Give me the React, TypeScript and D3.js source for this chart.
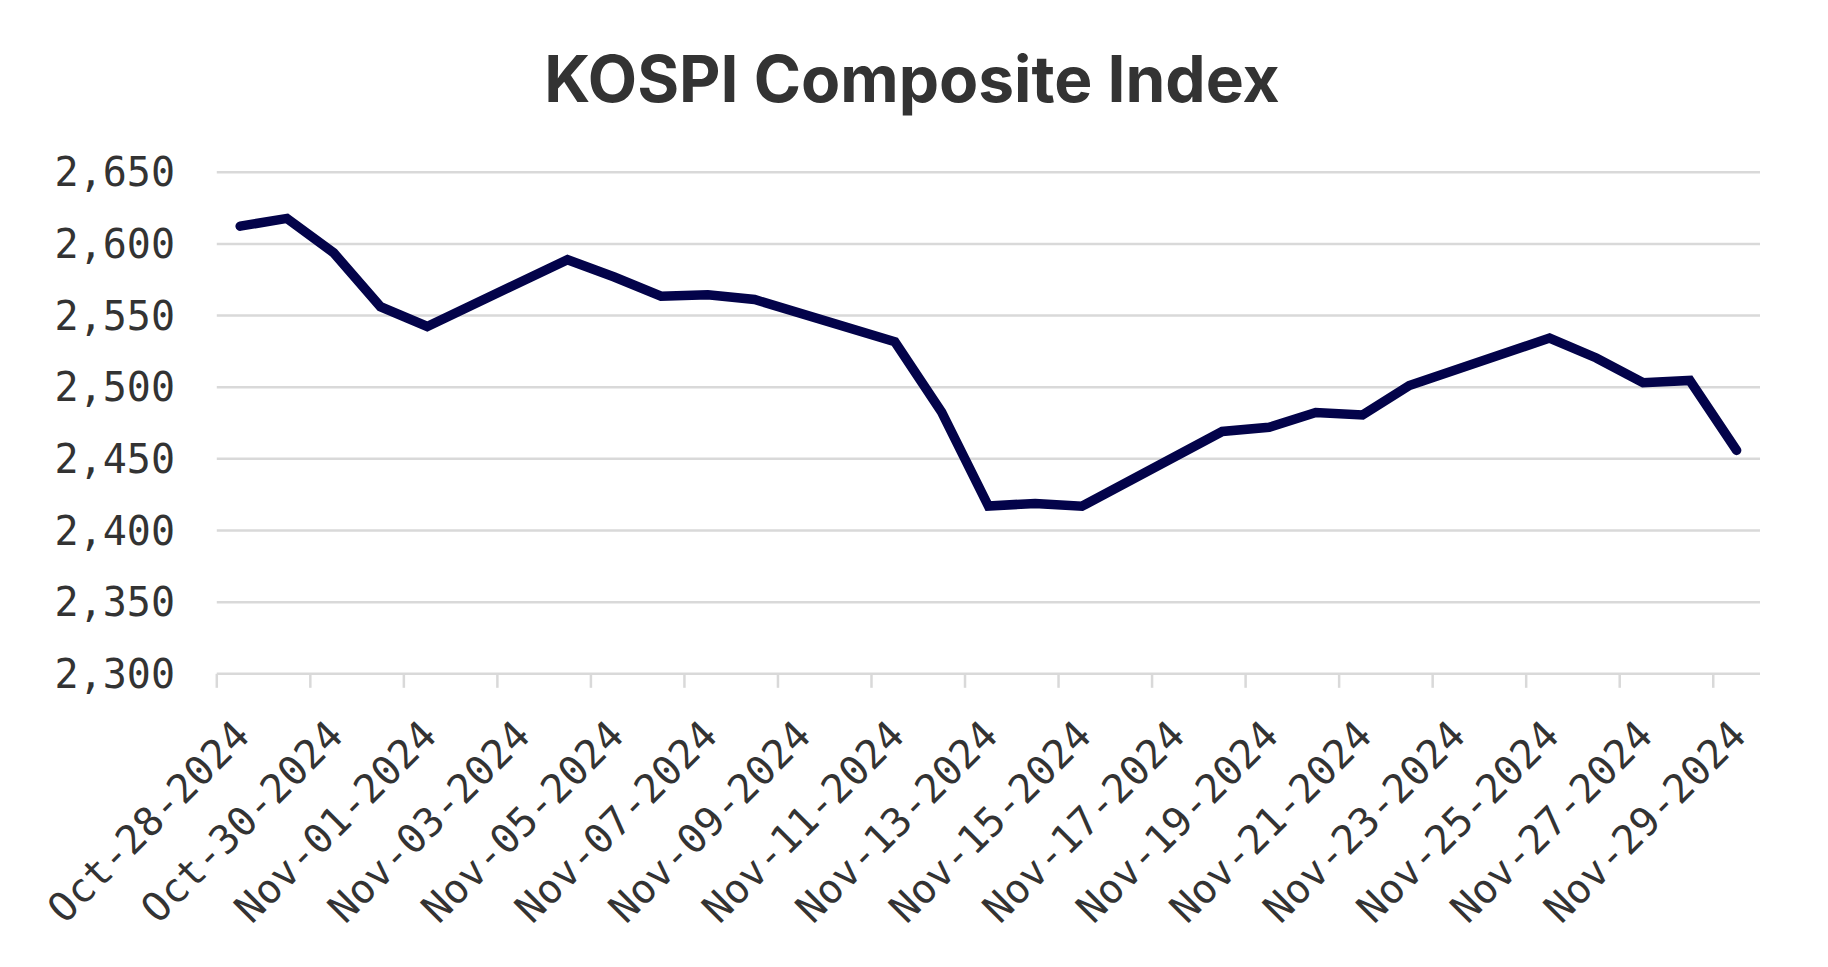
import React from 'react';
import * as d3 from 'd3';

// KOSPI closing values, trading days only
const dates = [
  '2024-10-28', '2024-10-29', '2024-10-30', '2024-10-31', '2024-11-01',
  '2024-11-04', '2024-11-05', '2024-11-06', '2024-11-07', '2024-11-08',
  '2024-11-11', '2024-11-12', '2024-11-13', '2024-11-14', '2024-11-15',
  '2024-11-18', '2024-11-19', '2024-11-20', '2024-11-21', '2024-11-22',
  '2024-11-25', '2024-11-26', '2024-11-27', '2024-11-28', '2024-11-29'
];
const closes = [
  2612.4, 2617.8, 2593.8, 2556.2, 2542.4,
  2589.0, 2576.9, 2563.5, 2564.6, 2561.2,
  2531.7, 2482.6, 2417.1, 2418.9, 2416.9,
  2469.1, 2472.0, 2482.3, 2480.6, 2501.2,
  2534.3, 2520.4, 2503.1, 2504.7, 2455.9
];
const yTicks = [2300, 2350, 2400, 2450, 2500, 2550, 2600, 2650];

const W = 1828, H = 967;
const left = 216.8, right = 1760, top = 172.3, bottom = 673.8;

const parse = d3.utcParse('%Y-%m-%d');
const fmtTick = d3.utcFormat('%b-%d-%Y');
const fmtY = d3.format(',');

export default function App() {
  const start = parse('2024-10-28')!;
  const end = parse('2024-11-30')!;
  const x = d3.scaleUtc().domain([start, end]).range([left, right]);
  const y = d3.scaleLinear().domain([2300, 2650]).range([bottom, top]);

  // a tick every second calendar day, counted from the first day
  const xTicks = d3.utcDay.range(start, end, 2);

  const pts = dates.map((d, i) => ({ t: d3.utcHour.offset(parse(d)!, 12), v: closes[i] }));
  const line = d3.line<{ t: Date; v: number }>()
    .x(d => x(d.t))
    .y(d => y(d.v));

  const mono = '"DejaVu Sans Mono", monospace';

  return (
    <svg width={W} height={H} style={{ position: 'absolute', left: 0, top: 0, background: '#fff' }}>
      <text x={912} y={102} textAnchor="middle" fontFamily="Inter, Roboto, sans-serif"
        fontWeight={700} fontSize={64} fill="#333">KOSPI Composite Index</text>

      {yTicks.map(t => (
        <g key={t}>
          <line x1={left} x2={right} y1={y(t)} y2={y(t)} stroke="#d9d9d9" strokeWidth={2.5} />
          <text x={175} y={y(t)} dy="0.35em" textAnchor="end" fontFamily={mono}
            fontSize={40} fill="#333">{fmtY(t)}</text>
        </g>
      ))}

      {xTicks.map(t => (
        <g key={+t}>
          <line x1={x(t)} x2={x(t)} y1={bottom} y2={bottom + 14} stroke="#d9d9d9" strokeWidth={2.5} />
          <text transform={`translate(${x(t) + 35},${bottom + 64}) rotate(-45)`} textAnchor="end"
            fontFamily={mono} fontSize={40} fill="#333">{fmtTick(t)}</text>
        </g>
      ))}

      <path d={line(pts)!} fill="none" stroke="#03034a" strokeWidth={9.5}
        strokeLinecap="round" strokeLinejoin="miter" />
    </svg>
  );
}
